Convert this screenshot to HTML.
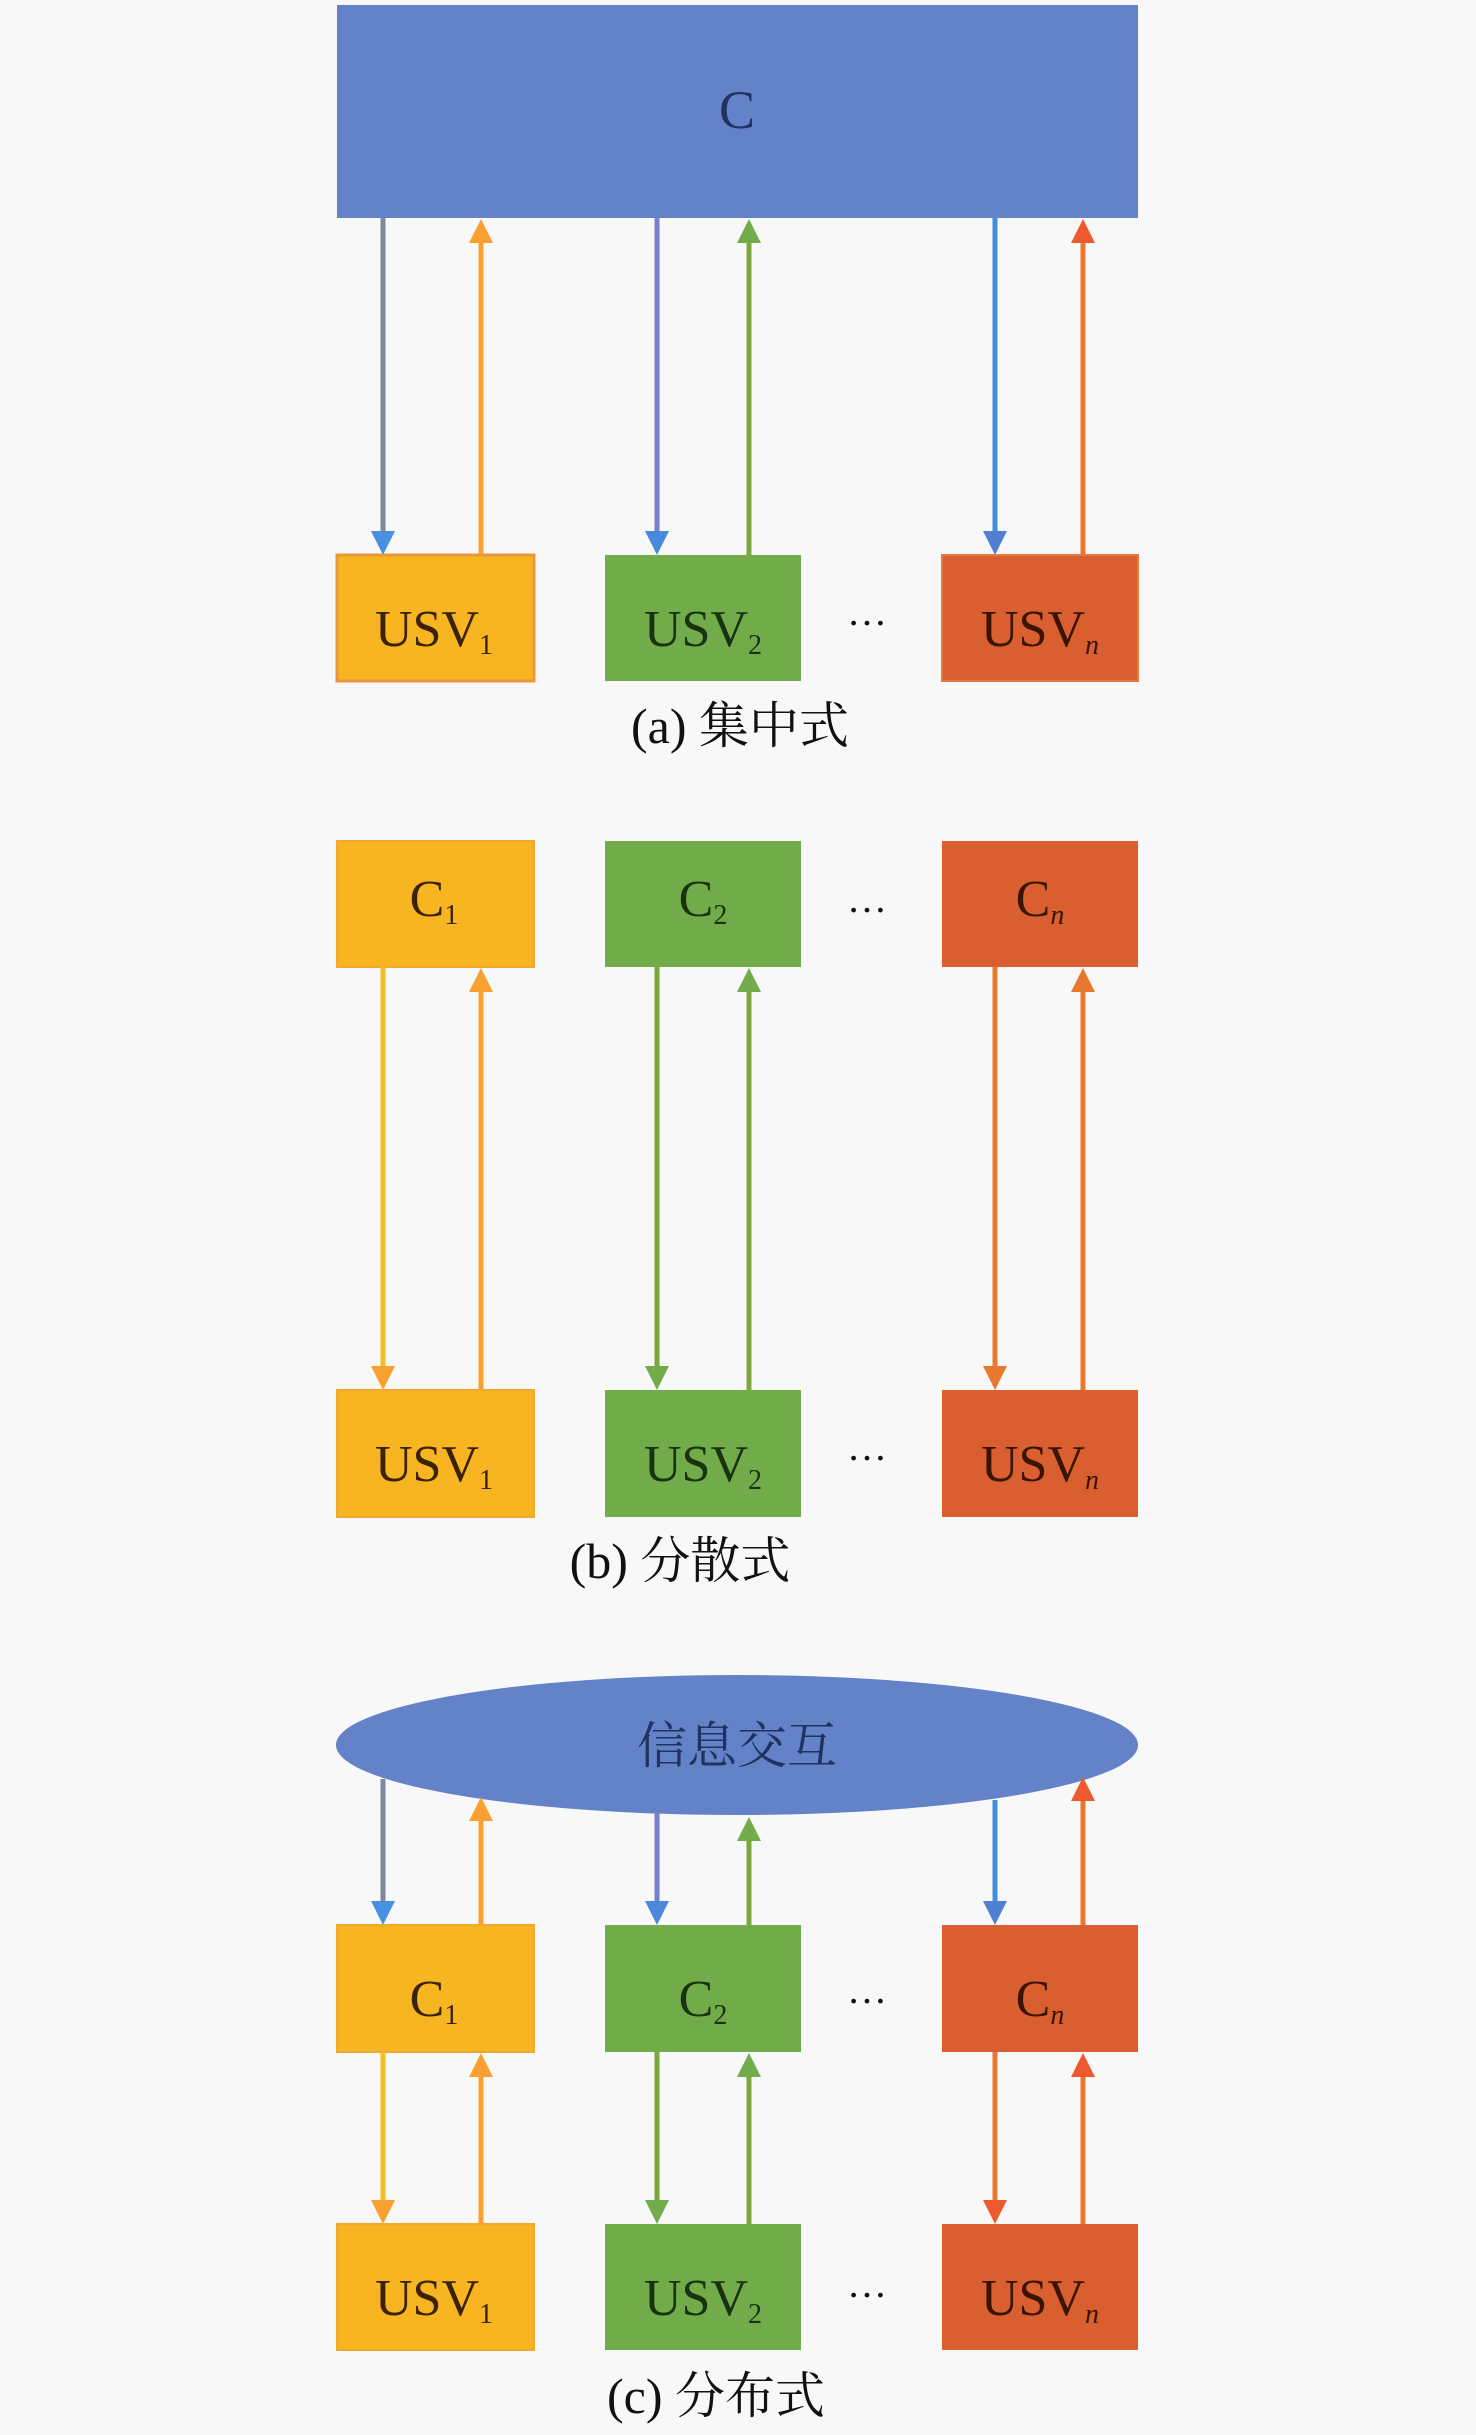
<!DOCTYPE html>
<html><head><meta charset="utf-8"><style>
html,body{margin:0;padding:0;background:#f8f8f8;}
svg{display:block;}
text{font-family:"Liberation Serif","Noto Serif CJK SC",serif;}
</style></head><body>
<svg width="1476" height="2435" viewBox="0 0 1476 2435" xmlns="http://www.w3.org/2000/svg">
<rect width="1476" height="2435" fill="#f8f8f8"/>
<defs>
<g id="dn"><polygon points="-12,-24 12,-24 0,0"/></g>
</defs>

<!-- (a) -->
<rect x="337" y="5" width="801" height="213" fill="#6482c8"/>
<text x="737" y="128" font-size="54" text-anchor="middle" fill="#1f3360">C</text>

<g stroke-width="5">
<line x1="383" y1="218" x2="383" y2="535" stroke="#7d8a9a"/><polygon points="371,531 395,531 383,555" fill="#4a90e0"/>
<line x1="481" y1="240" x2="481" y2="555" stroke="#f8a030"/><polygon points="469,243 493,243 481,219" fill="#f8a030"/>
<line x1="657" y1="218" x2="657" y2="535" stroke="#7780cc"/><polygon points="645,531 669,531 657,555" fill="#4a88dc"/>
<line x1="749" y1="240" x2="749" y2="555" stroke="#7aa83a"/><polygon points="737,243 761,243 749,219" fill="#72ac4a"/>
<line x1="995" y1="218" x2="995" y2="535" stroke="#3e8fe0"/><polygon points="983,531 1007,531 995,555" fill="#5080d0"/>
<line x1="1083" y1="240" x2="1083" y2="555" stroke="#e8782e"/><polygon points="1071,243 1095,243 1083,219" fill="#ee5a30"/>
</g>

<rect x="337" y="555" width="197" height="126" fill="#f6b521" stroke="#e8983a" stroke-width="3"/>
<rect x="605" y="555" width="196" height="126" fill="#72ac4a"/>
<rect x="942" y="555" width="196" height="126" fill="#d95f30" stroke="#e57a3c" stroke-width="2"/>
<text x="434" y="646" font-size="52" text-anchor="middle" fill="#3b2200">USV<tspan font-size="28" dy="8">1</tspan></text>
<text x="703" y="646" font-size="52" text-anchor="middle" fill="#17330f">USV<tspan font-size="28" dy="8">2</tspan></text>
<text x="1040" y="646" font-size="52" text-anchor="middle" fill="#3b1400">USV<tspan font-size="28" dy="8" font-style="italic">n</tspan></text>
<text x="867" y="625" font-size="40" text-anchor="middle" fill="#111">…</text>
<text x="740" y="743" font-size="50" text-anchor="middle" fill="#111">(a) 集中式</text>

<!-- (b) -->
<rect x="337" y="841" width="197" height="126" fill="#f6b521" stroke="#f0a830" stroke-width="2"/>
<rect x="605" y="841" width="196" height="126" fill="#72ac4a"/>
<rect x="942" y="841" width="196" height="126" fill="#d95f30"/>
<text x="434" y="916" font-size="52" text-anchor="middle" fill="#3b2200">C<tspan font-size="28" dy="8">1</tspan></text>
<text x="703" y="916" font-size="52" text-anchor="middle" fill="#17330f">C<tspan font-size="28" dy="8">2</tspan></text>
<text x="1040" y="916" font-size="52" text-anchor="middle" fill="#3b1400">C<tspan font-size="28" dy="8" font-style="italic">n</tspan></text>
<text x="867" y="912" font-size="40" text-anchor="middle" fill="#111">…</text>

<g stroke-width="5">
<line x1="383" y1="967" x2="383" y2="1370" stroke="#f2c020"/><polygon points="371,1366 395,1366 383,1390" fill="#f8a030"/>
<line x1="481" y1="990" x2="481" y2="1390" stroke="#f8a030"/><polygon points="469,992 493,992 481,968" fill="#f8a030"/>
<line x1="657" y1="967" x2="657" y2="1370" stroke="#7aa83a"/><polygon points="645,1366 669,1366 657,1390" fill="#72ac4a"/>
<line x1="749" y1="990" x2="749" y2="1390" stroke="#7aa83a"/><polygon points="737,992 761,992 749,968" fill="#72ac4a"/>
<line x1="995" y1="967" x2="995" y2="1370" stroke="#e8782e"/><polygon points="983,1366 1007,1366 995,1390" fill="#e8782e"/>
<line x1="1083" y1="990" x2="1083" y2="1390" stroke="#e8782e"/><polygon points="1071,992 1095,992 1083,968" fill="#e8782e"/>
</g>

<rect x="337" y="1390" width="197" height="127" fill="#f6b521" stroke="#f0a830" stroke-width="2"/>
<rect x="605" y="1390" width="196" height="127" fill="#72ac4a"/>
<rect x="942" y="1390" width="196" height="127" fill="#d95f30"/>
<text x="434" y="1481" font-size="52" text-anchor="middle" fill="#3b2200">USV<tspan font-size="28" dy="8">1</tspan></text>
<text x="703" y="1481" font-size="52" text-anchor="middle" fill="#17330f">USV<tspan font-size="28" dy="8">2</tspan></text>
<text x="1040" y="1481" font-size="52" text-anchor="middle" fill="#3b1400">USV<tspan font-size="28" dy="8" font-style="italic">n</tspan></text>
<text x="867" y="1460" font-size="40" text-anchor="middle" fill="#111">…</text>
<text x="680" y="1578" font-size="50" text-anchor="middle" fill="#111">(b) 分散式</text>

<!-- (c) -->
<ellipse cx="737" cy="1745" rx="401" ry="70" fill="#6482c8"/>
<text x="737" y="1763" font-size="50" text-anchor="middle" fill="#1f3360">信息交互</text>

<g stroke-width="5">
<line x1="383" y1="1779" x2="383" y2="1905" stroke="#7d8a9a"/><polygon points="371,1901 395,1901 383,1925" fill="#4a90e0"/>
<line x1="481" y1="1820" x2="481" y2="1925" stroke="#f8a030"/><polygon points="469,1821 493,1821 481,1797" fill="#f8a030"/>
<line x1="657" y1="1812" x2="657" y2="1905" stroke="#7780cc"/><polygon points="645,1901 669,1901 657,1925" fill="#4a88dc"/>
<line x1="749" y1="1838" x2="749" y2="1925" stroke="#7aa83a"/><polygon points="737,1841 761,1841 749,1817" fill="#72ac4a"/>
<line x1="995" y1="1800" x2="995" y2="1905" stroke="#3e8fe0"/><polygon points="983,1901 1007,1901 995,1925" fill="#5080d0"/>
<line x1="1083" y1="1798" x2="1083" y2="1925" stroke="#e8782e"/><polygon points="1071,1801 1095,1801 1083,1777" fill="#ee5a30"/>
</g>

<rect x="337" y="1925" width="197" height="127" fill="#f6b521" stroke="#f0a830" stroke-width="2"/>
<rect x="605" y="1925" width="196" height="127" fill="#72ac4a"/>
<rect x="942" y="1925" width="196" height="127" fill="#d95f30"/>
<text x="434" y="2016" font-size="52" text-anchor="middle" fill="#3b2200">C<tspan font-size="28" dy="8">1</tspan></text>
<text x="703" y="2016" font-size="52" text-anchor="middle" fill="#17330f">C<tspan font-size="28" dy="8">2</tspan></text>
<text x="1040" y="2016" font-size="52" text-anchor="middle" fill="#3b1400">C<tspan font-size="28" dy="8" font-style="italic">n</tspan></text>
<text x="867" y="2003" font-size="40" text-anchor="middle" fill="#111">…</text>

<g stroke-width="5">
<line x1="383" y1="2052" x2="383" y2="2204" stroke="#f2c020"/><polygon points="371,2200 395,2200 383,2224" fill="#f8a030"/>
<line x1="481" y1="2075" x2="481" y2="2224" stroke="#f8a030"/><polygon points="469,2077 493,2077 481,2053" fill="#f8a030"/>
<line x1="657" y1="2052" x2="657" y2="2204" stroke="#7aa83a"/><polygon points="645,2200 669,2200 657,2224" fill="#72ac4a"/>
<line x1="749" y1="2075" x2="749" y2="2224" stroke="#7aa83a"/><polygon points="737,2077 761,2077 749,2053" fill="#72ac4a"/>
<line x1="995" y1="2052" x2="995" y2="2204" stroke="#e8782e"/><polygon points="983,2200 1007,2200 995,2224" fill="#ee5a30"/>
<line x1="1083" y1="2075" x2="1083" y2="2224" stroke="#e8782e"/><polygon points="1071,2077 1095,2077 1083,2053" fill="#ee5a30"/>
</g>

<rect x="337" y="2224" width="197" height="126" fill="#f6b521" stroke="#f0a830" stroke-width="2"/>
<rect x="605" y="2224" width="196" height="126" fill="#72ac4a"/>
<rect x="942" y="2224" width="196" height="126" fill="#d95f30"/>
<text x="434" y="2315" font-size="52" text-anchor="middle" fill="#3b2200">USV<tspan font-size="28" dy="8">1</tspan></text>
<text x="703" y="2315" font-size="52" text-anchor="middle" fill="#17330f">USV<tspan font-size="28" dy="8">2</tspan></text>
<text x="1040" y="2315" font-size="52" text-anchor="middle" fill="#3b1400">USV<tspan font-size="28" dy="8" font-style="italic">n</tspan></text>
<text x="867" y="2297" font-size="40" text-anchor="middle" fill="#111">…</text>
<text x="716" y="2413" font-size="50" text-anchor="middle" fill="#111">(c) 分布式</text>
</svg>
</body></html>
